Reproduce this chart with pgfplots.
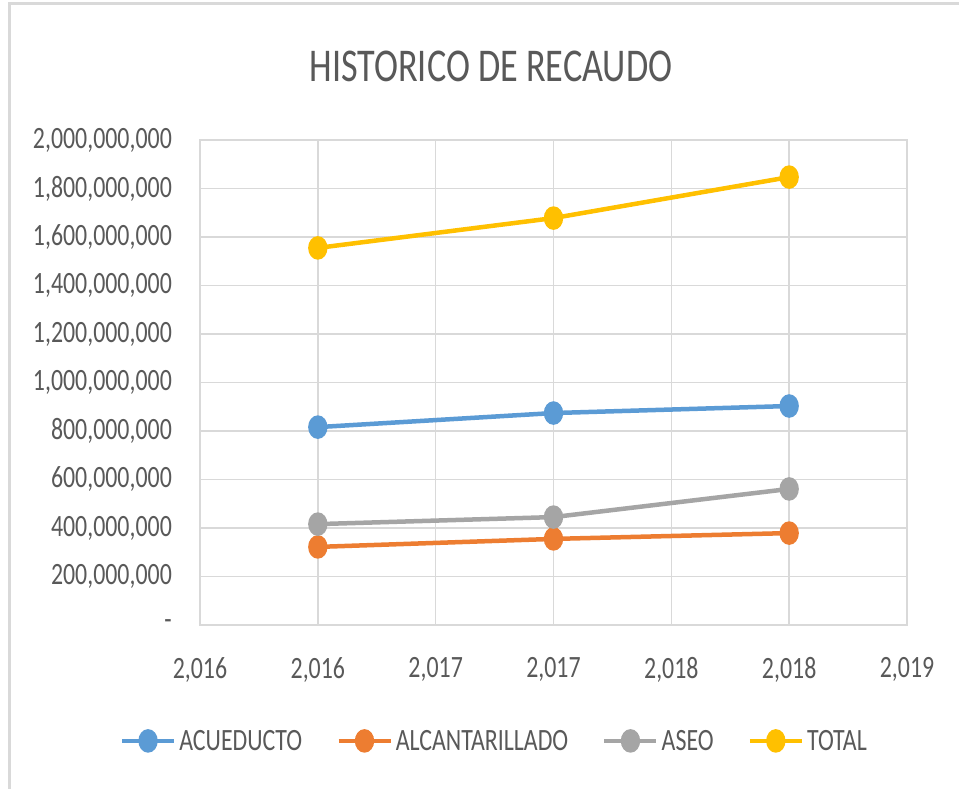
\documentclass[border=0pt]{standalone}
\usepackage{fontspec}
\setmainfont[FakeStretch=0.77]{Carlito}
\usepackage{pgfplots}
\pgfplotsset{compat=1.18}

\definecolor{acu}{HTML}{5B9BD5}
\definecolor{alc}{HTML}{ED7D31}
\definecolor{aseo}{HTML}{A5A5A5}
\definecolor{tot}{HTML}{FFC000}
\definecolor{gridgray}{HTML}{D9D9D9}
\definecolor{txtgray}{HTML}{595959}

\begin{document}
\begin{tikzpicture}
\fill[white] (0,0) rectangle (959pt,789pt);
\useasboundingbox (0,0) rectangle (959pt,789pt);
\draw[gridgray, line width=3pt] (9pt,0pt) -- (9pt,785pt) -- (959pt,785pt);
\node[font=\fontsize{47}{52}\selectfont, text=txtgray] at (491pt,723pt) {HISTORICO DE RECAUDO};

\begin{axis}[
    at={(200pt,164pt)}, anchor=south west,
    width=707pt, height=485pt, scale only axis,
    xmin=2015.5, xmax=2018.5,
    ymin=0, ymax=2000000000,
    xtick={2015.5,2016,2016.5,2017,2017.5,2018,2018.5},
    xticklabels={{2,016},{2,016},{2,017},{2,017},{2,018},{2,018},{2,019}},
    ytick={0,2e8,4e8,6e8,8e8,1e9,1.2e9,1.4e9,1.6e9,1.8e9,2e9},
    yticklabels={{-\hspace{9pt}},{200,000,000},{400,000,000},{600,000,000},{800,000,000},{1,000,000,000},{1,200,000,000},{1,400,000,000},{1,600,000,000},{1,800,000,000},{2,000,000,000}},
    scaled y ticks=false,
    grid=major,
    grid style={gridgray, line width=1.5pt},
    axis line style={gridgray, line width=1.5pt},
    major tick length=0pt,
    tick label style={font=\fontsize{31}{36}\selectfont, text=txtgray, inner sep=0pt},
    yticklabel style={xshift=-28pt},
    xticklabel style={yshift=-32pt},
    legend columns=4,
    legend style={at={(0.417,-0.239)}, anchor=center, draw=none, fill=none,
        font=\fontsize{31}{36}\selectfont, text=txtgray,
        /tikz/every even column/.append style={column sep=31pt},
        nodes={inner xsep=3pt}},
    legend image code/.code={
        \draw[mark repeat=2, mark phase=2, #1] plot coordinates {(0pt,0pt) (26pt,0pt) (52pt,0pt)};
    },
    every axis plot/.append style={line width=4.5pt, mark=*, mark size=9.5pt},
]
\addplot[acu, mark options={fill=acu, xscale=0.78}] coordinates {(2016,816000000) (2017,874000000) (2018,903000000)};
\addlegendentry{ACUEDUCTO}
\addplot[alc, mark options={fill=alc, xscale=0.78}] coordinates {(2016,322000000) (2017,355000000) (2018,379000000)};
\addlegendentry{ALCANTARILLADO}
\addplot[aseo, mark options={fill=aseo, xscale=0.78}] coordinates {(2016,416000000) (2017,445000000) (2018,561000000)};
\addlegendentry{ASEO}
\addplot[tot, mark options={fill=tot, xscale=0.78}] coordinates {(2016,1555000000) (2017,1678000000) (2018,1847000000)};
\addlegendentry{TOTAL}
\end{axis}
\end{tikzpicture}
\end{document}
